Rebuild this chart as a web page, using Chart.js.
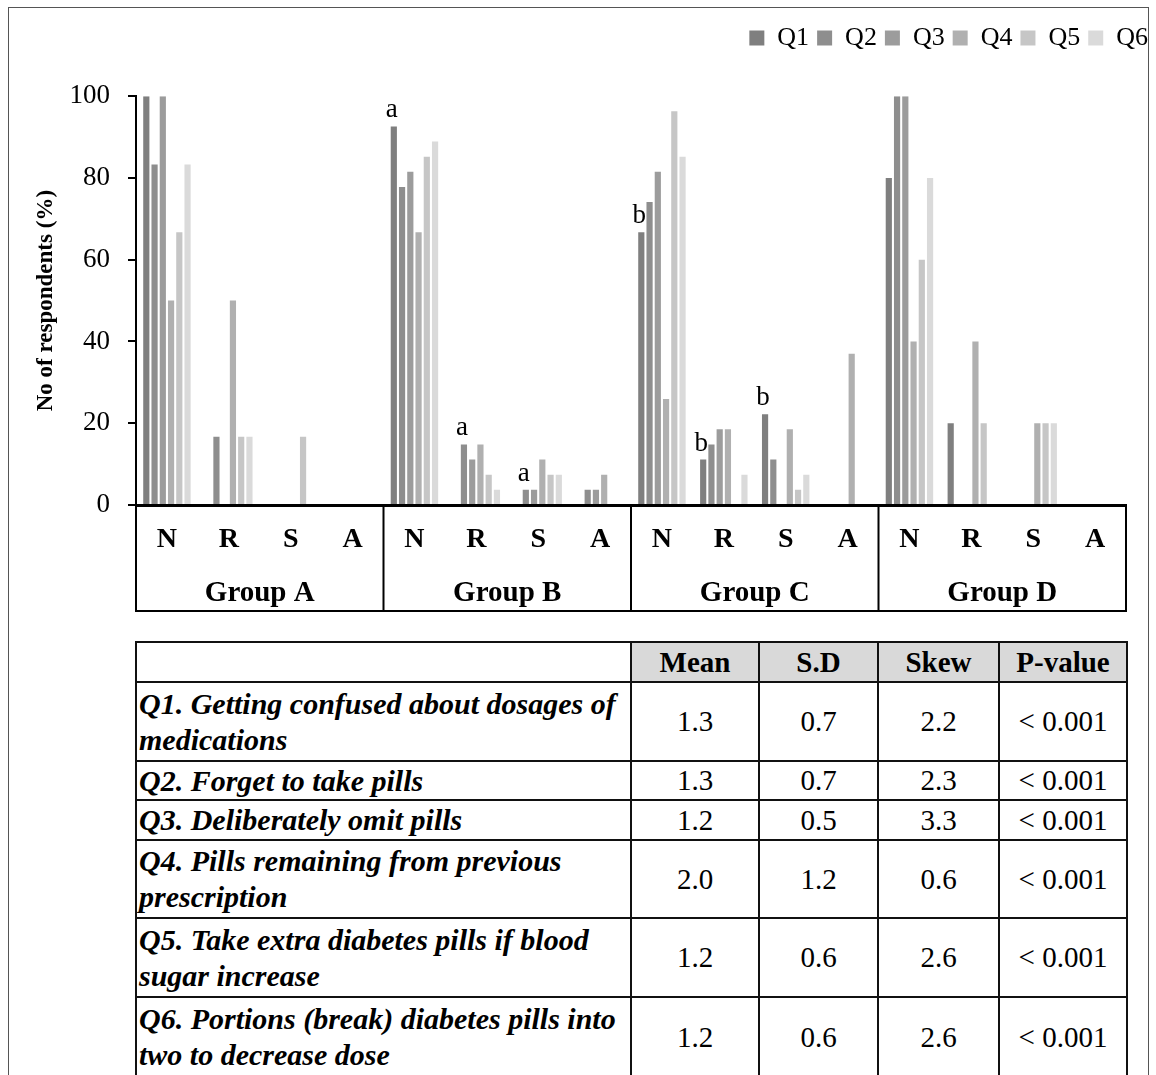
<!DOCTYPE html>
<html>
<head>
<meta charset="utf-8">
<script src="https://cdn.jsdelivr.net/npm/chart.js@4.4.1/dist/chart.umd.min.js"></script>
<style>
  body{margin:0;background:#fff;width:1156px;height:1075px;overflow:hidden;position:relative;font-family:'Liberation Serif','Times New Roman',serif;color:#000;}
  #frame{position:absolute;left:8px;top:7px;width:1141px;height:1200px;border:1px solid #555;box-sizing:border-box;}
  #chartWrap{position:absolute;left:0;top:0;width:1156px;height:630px;}
  #stats{position:absolute;left:135px;top:641px;border-collapse:collapse;table-layout:fixed;width:992px;font-size:29px;}
  #stats td,#stats th{border:2px solid #111;padding:0;overflow:hidden;}
  #stats th{background:#d9d9d9;font-weight:bold;text-align:center;}
  #stats th.blank{background:#fff;}
  #stats td.q{font-weight:bold;font-style:italic;font-size:30px;text-align:left;padding-left:2px;line-height:36px;white-space:nowrap;vertical-align:middle;}
  #stats td.n{text-align:center;vertical-align:middle;}
</style>
</head>
<body>
<div id="frame"></div>
<div id="chartWrap"><canvas id="c" width="1156" height="630"></canvas></div>
<table id="stats"></table>
<script>
// ---------- data ----------
const groups = ['Group A', 'Group B', 'Group C', 'Group D'];
const responses = ['N', 'R', 'S', 'A'];
const seriesNames = ['Q1', 'Q2', 'Q3', 'Q4', 'Q5', 'Q6'];
const seriesColors = ['#7f7f7f', '#8e8e8e', '#9c9c9c', '#b0b0b0', '#c6c6c6', '#dadada'];
// values per series: Group A (N,R,S,A), Group B, Group C, Group D
const q1 = [100, 0, 0, 0,   92.6, 0, 0, 0,       66.7, 11.1, 22.2, 0,   80, 20, 0, 0];
const q2 = [83.3, 16.7, 0, 0, 77.8, 14.8, 3.7, 3.7, 74.1, 14.8, 11.1, 0, 100, 0, 0, 0];
const q3 = [100, 0, 0, 0,   81.5, 11.1, 3.7, 3.7, 81.5, 18.5, 0, 0,    100, 0, 0, 0];
const q4 = [50, 50, 0, 0,   66.7, 14.8, 11.1, 7.4, 25.9, 18.5, 18.5, 37.0, 40, 40, 20, 0];
const q5 = [66.7, 16.7, 16.7, 0, 85.2, 7.4, 7.4, 0, 96.3, 0, 3.7, 0,   60, 20, 20, 0];
const q6 = [83.3, 16.7, 0, 0, 88.9, 3.7, 7.4, 0,  85.2, 7.4, 7.4, 0,   80, 0, 20, 0];
const seriesValues = [q1, q2, q3, q4, q5, q6];
const yTicks = [0, 20, 40, 60, 80, 100];
const yTitle = 'No of respondents (%)';
// significance letters: [series index, category index, letter]
const marks = [[0, 4, 'a'], [1, 5, 'a'], [1, 6, 'a'], [0, 8, 'b'], [0, 9, 'b'], [0, 10, 'b']];

// table
const statHeaders = ['Mean', 'S.D', 'Skew', 'P-value'];
const questions = [
  ['Q1. Getting confused about dosages of', 'medications'],
  ['Q2. Forget to take pills'],
  ['Q3. Deliberately omit pills'],
  ['Q4. Pills remaining from previous', 'prescription'],
  ['Q5. Take extra diabetes pills if blood', 'sugar increase'],
  ['Q6. Portions (break) diabetes pills into', 'two to decrease dose']
];
const means = ['1.3', '1.3', '1.2', '2.0', '1.2', '1.2'];
const sds = ['0.7', '0.7', '0.5', '1.2', '0.6', '0.6'];
const skews = ['2.2', '2.3', '3.3', '0.6', '2.6', '2.6'];
const pvalues = ['< 0.001', '< 0.001', '< 0.001', '< 0.001', '< 0.001', '< 0.001'];

// ---------- chart ----------
const FONT = "'Liberation Serif', 'Times New Roman', serif";
Chart.defaults.color = '#000';
Chart.defaults.font.family = FONT;

const labels = [];
groups.forEach(() => responses.forEach(r => labels.push(r)));

const groupBoxPlugin = {
  id: 'groupBox',
  afterDraw(chart) {
    const ctx = chart.ctx, x = chart.scales.x, area = chart.chartArea;
    const top = area.bottom, bottom = 611;
    ctx.save();
    ctx.strokeStyle = '#000';
    ctx.lineWidth = 2;
    ctx.beginPath();
    ctx.moveTo(area.left, top); ctx.lineTo(area.left, bottom);
    ctx.lineTo(area.right, bottom); ctx.lineTo(area.right, top);
    for (let g = 1; g < groups.length; g++) {
      const i = g * responses.length;
      const bx = (x.getPixelForValue(i - 1) + x.getPixelForValue(i)) / 2;
      ctx.moveTo(bx, top); ctx.lineTo(bx, bottom);
    }
    ctx.stroke();
    ctx.font = 'bold 29px ' + FONT;
    ctx.fillStyle = '#000';
    ctx.textAlign = 'center';
    ctx.textBaseline = 'middle';
    groups.forEach((g, gi) => {
      const a = x.getPixelForValue(gi * responses.length);
      const b = x.getPixelForValue(gi * responses.length + responses.length - 1);
      ctx.fillText(g, (a + b) / 2, 594);
    });
    // significance letters
    ctx.font = '27px ' + FONT;
    ctx.textBaseline = 'alphabetic';
    marks.forEach(([s, c, t]) => {
      const el = chart.getDatasetMeta(s).data[c];
      ctx.fillText(t, el.x - 2, el.y - 9);
    });
    ctx.restore();
  }
};

new Chart(document.getElementById('c'), {
  type: 'bar',
  data: {
    labels: labels,
    datasets: seriesNames.map((n, i) => ({
      label: n,
      data: seriesValues[i],
      backgroundColor: seriesColors[i],
      borderWidth: 0,
      barPercentage: 0.75,
      categoryPercentage: 0.8
    }))
  },
  options: {
    responsive: false,
    animation: false,
    devicePixelRatio: 1,
    layout: { padding: { top: 17, left: 0, right: 0, bottom: 0 } },
    plugins: {
      legend: {
        position: 'top', align: 'end',
        labels: { boxWidth: 15, boxHeight: 15, padding: 8, color: '#000', font: { family: FONT, size: 26 } }
      },
      subtitle: { display: true, text: '', position: 'top', weight: 500, padding: { top: 34, bottom: 0 }, font: { size: 1 } },
      tooltip: { enabled: false }
    },
    scales: {
      x: {
        grid: { display: false, drawTicks: false },
        border: { display: true, color: '#000', width: 3 },
        ticks: { autoSkip: false, maxRotation: 0, padding: 18, color: '#000', font: { family: FONT, size: 28, weight: 'bold' } },
        afterFit(s) { s.height = 125; }
      },
      y: {
        min: 0, max: 100,
        afterBuildTicks(s) { s.ticks = yTicks.map(v => ({ value: v })); },
        grid: { drawOnChartArea: false, drawTicks: true, tickLength: 8, color: '#000', lineWidth: 2 },
        border: { display: true, color: '#000', width: 2 },
        ticks: { padding: 18, color: '#000', font: { family: FONT, size: 27 } },
        title: { display: true, text: yTitle, color: '#000', font: { family: FONT, size: 23, weight: 'bold' }, padding: { top: 32, bottom: 0 } },
        afterFit(s) { s.width = 136; }
      },
      yR: {
        type: 'linear', position: 'right', display: true,
        grid: { display: false, drawTicks: false },
        border: { display: false },
        ticks: { display: false },
        afterFit(s) { s.width = 30; }
      }
    }
  },
  plugins: [groupBoxPlugin]
});

// ---------- table ----------
const rowHeights = [79, 39, 40, 78, 79, 80];
const tbl = document.getElementById('stats');
let html = '<colgroup><col style="width:495px"><col style="width:128px"><col style="width:119px"><col style="width:121px"><col style="width:128px"></colgroup>';
html += '<tr style="height:40px"><th class="blank"></th>' + statHeaders.map(h => '<th>' + h + '</th>').join('') + '</tr>';
questions.forEach((q, i) => {
  html += '<tr style="height:' + rowHeights[i] + 'px"><td class="q">' + q.join('<br>') + '</td>' +
    '<td class="n">' + means[i] + '</td><td class="n">' + sds[i] + '</td><td class="n">' + skews[i] + '</td><td class="n">' + pvalues[i] + '</td></tr>';
});
tbl.innerHTML = html;
</script>
</body>
</html>
